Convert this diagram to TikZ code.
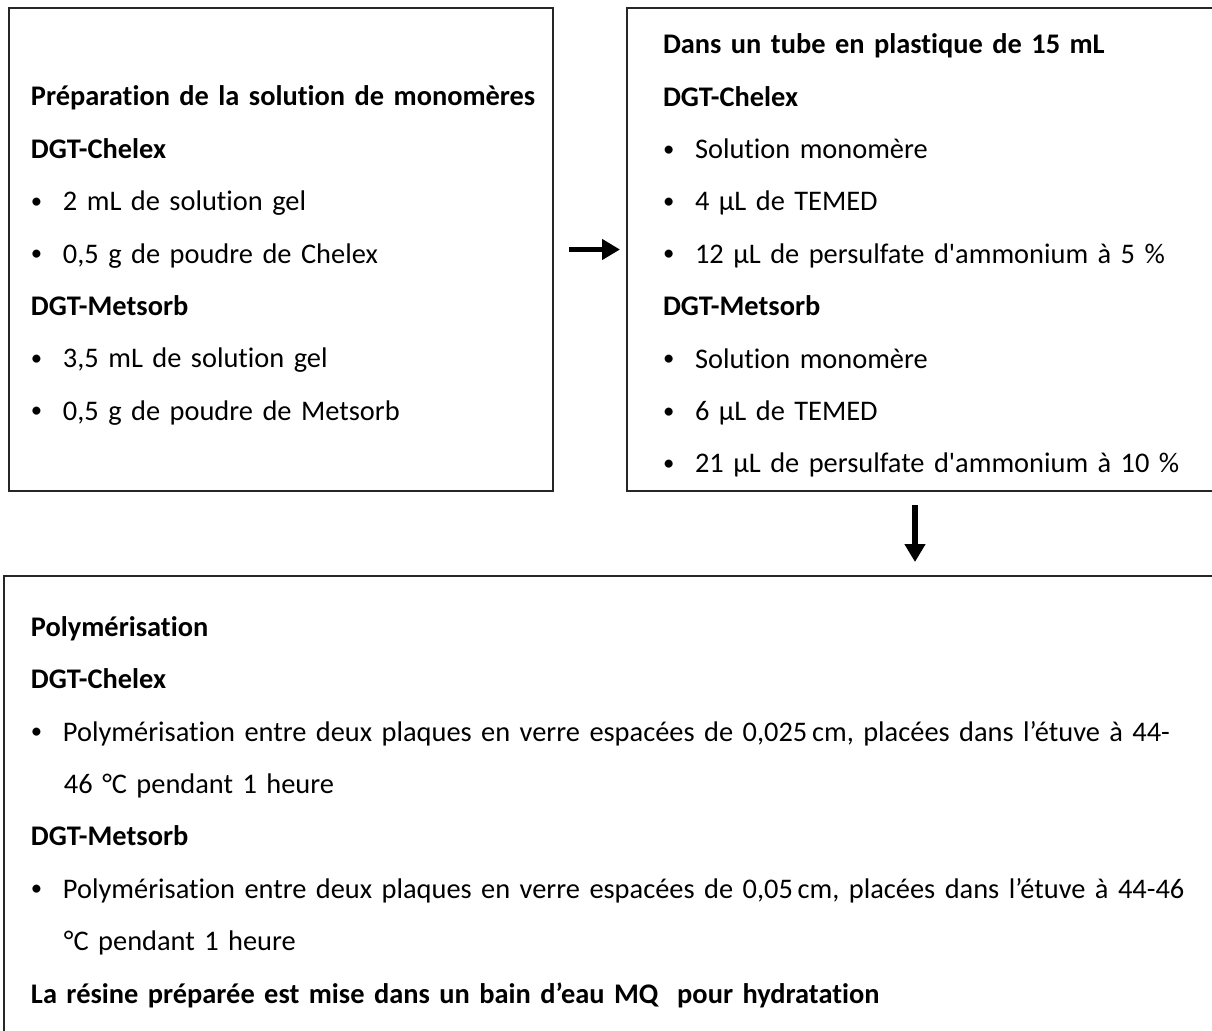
\documentclass[tikz,border=0pt]{standalone}
\usepackage{fontspec}
\setmainfont{Carlito}[Ligatures={NoCommon}]
\usetikzlibrary{arrows.meta, positioning, calc}
\tikzset{
  box/.style ={rectangle, draw=black!85, line width=1pt, anchor=north west,
               align=left, inner ysep=0pt,
               font=\fontsize{14.2}{26.2}\selectfont},
  arr/.style ={-{Triangle[length=9pt, width=10pt]}, line width=2.6pt}
}
\newcommand{\itm}{\makebox[16pt][l]{\raisebox{1.2pt}{\scalebox{0.8}{\textbullet}}}}
\newcommand{\cont}{\hspace*{16.5pt}}

\begin{document}
\begin{tikzpicture}[x=0.5pt, y=-0.5pt]
    \useasboundingbox (0,0) rectangle (1212,1030);
    \clip (0,0) rectangle (1212,1030);
    % preparation of the monomer solution
    \node[box, minimum width=272pt, minimum height=241.5pt, inner xsep=11pt,
          text width=250pt] (prep) at (8,7) {%
      \rule{0pt}{16pt}\mbox{\textbf{Préparation de la solution de monomères}}\\
      \textbf{DGT-Chelex}\\
      \itm 2 mL de solution gel\\
      \itm 0,5 g de poudre de Chelex\\
      \textbf{DGT-Metsorb}\\
      \itm 3,5 mL de solution gel\\
      \itm 0,5 g de poudre de Metsorb};
    % tube
    \node[box, minimum width=297pt, minimum height=241.5pt, inner xsep=18pt,
          text width=261pt] (tube) at (626,7) {%
      \rule{0pt}{16pt}\textbf{Dans un tube en plastique de 15 mL}\\
      \textbf{DGT-Chelex}\\
      \itm Solution monomère\\
      \itm 4 µL de TEMED\\
      \itm 12 µL de persulfate d\textquotesingle ammonium à 5 \%\\
      \textbf{DGT-Metsorb}\\
      \itm Solution monomère\\
      \itm 6 µL de TEMED\\
      \itm \mbox{21 µL de persulfate d\textquotesingle ammonium à 10 \%}};
    % polymerisation
    \node[box, minimum width=608.5pt, minimum height=236pt, inner xsep=13.5pt,
          text width=590pt] (poly) at (3,575) {%
      \textbf{Polymérisation}\\
      \textbf{DGT-Chelex}\\
      \itm Polymérisation entre deux plaques en verre espacées de 0,025\,cm, placées dans l’étuve à 44-\\
      \cont 46 °C pendant 1 heure\\
      \textbf{DGT-Metsorb}\\
      \itm Polymérisation entre deux plaques en verre espacées de 0,05\,cm, placées dans l’étuve à 44-46\\
      \cont °C pendant 1 heure\\
      \textbf{La résine préparée est mise dans un bain d’eau MQ\ \ pour hydratation}};
    \draw[arr, shorten <=7.5pt, shorten >=3pt] (prep) -- (tube);
    \draw[arr, shorten <=6.5pt, shorten >=6.5pt] ([xshift=-4.5pt]tube.south) -- ([xshift=-4.5pt]tube.south |- poly.north);
  \end{tikzpicture}
\end{document}
